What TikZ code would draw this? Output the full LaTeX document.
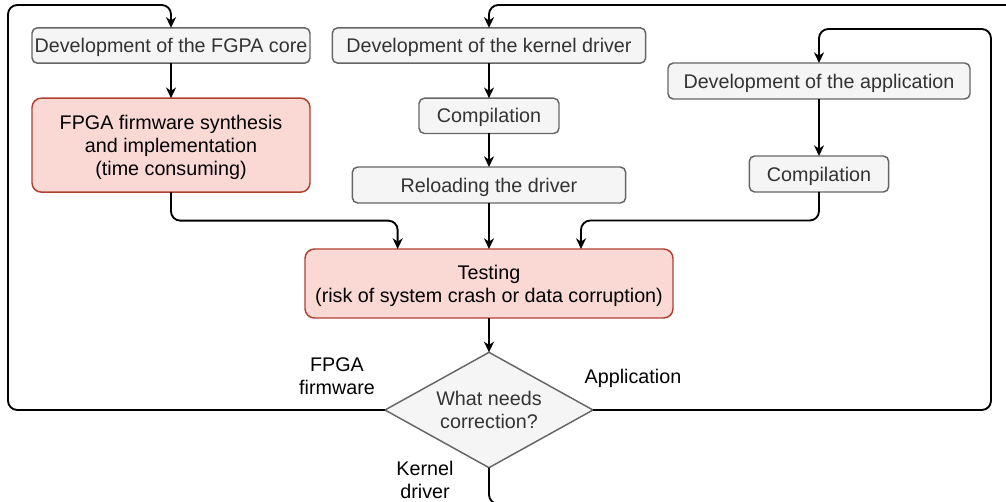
\documentclass[tikz,border=0pt]{standalone}
\usepackage{fontspec}
\setmainfont{Liberation Sans}
\usetikzlibrary{positioning,shapes.geometric,arrows.meta}
\definecolor{boxfill}{HTML}{F5F5F5}
\definecolor{boxline}{HTML}{666666}
\definecolor{boxtext}{HTML}{333333}
\definecolor{redfill}{HTML}{FAD9D5}
\definecolor{redline}{HTML}{AE4132}
\begin{document}
\begin{tikzpicture}[x=0.75pt, y=-0.75pt, >={Stealth[length=8pt,width=7.5pt,inset=2.5pt]},
    font=\fontsize{14.8}{17.25}\selectfont,
    gbox/.style = {draw=boxline, fill=boxfill, text=boxtext, line width=1.1pt, rounded corners=4pt,
                   minimum height=26.5pt, inner sep=0pt, outer sep=0pt, text depth=0pt, align=center},
    rbox/.style = {draw=redline, fill=redfill, text=black, line width=1.1pt, rounded corners=7pt,
                   inner sep=0pt, outer sep=0pt, text depth=0pt, align=center},
    cond/.style = {draw=boxline, fill=boxfill, text=boxtext, line width=1.1pt, diamond, aspect=1.8,
                   minimum width=156pt, minimum height=86.5pt, inner sep=0pt, outer sep=0pt, align=center},
    flow/.style = {->, line width=1.4pt, rounded corners=7pt}]
        \useasboundingbox (0,0) rectangle (1006,502);
        \clip (0,0) rectangle (1006,502);
        %
        \node[gbox, minimum width=208.5pt] (core) at (171,45.5) {Development of the FGPA core};
        \node[rbox, minimum width=208.5pt, minimum height=70.5pt] (synth) [below=26.25pt of core]
            {FPGA firmware synthesis\\and implementation\\(time consuming)};
        \node[gbox, minimum width=235pt] (kdev) at (489,45.5) {Development of the kernel driver};
        \node[gbox, minimum width=105pt] (kcomp) [below=26.25pt of kdev] {Compilation};
        \node[gbox, minimum width=205pt, minimum height=27pt] (reload) at (489,185) {Reloading the driver};
        \node[gbox, minimum width=226.5pt, minimum height=27pt] (appdev) at (819,81) {Development of the application};
        \node[gbox, minimum width=104.5pt, minimum height=27pt] (appcomp) [below=42.75pt of appdev] {Compilation};
        \node[rbox, minimum width=276pt, minimum height=51.75pt] (test) at (489,283.5)
            {Testing\\(risk of system crash or data corruption)};
        \node[cond] (dec) at (489,410) {What needs\\correction?};
        %
        \node[align=center] (lblfw) at (337,376) {FPGA\\firmware};
        \node (lblapp) at (633,378) {Application};
        \node[align=center] (lbldrv) at (425,479.5) {Kernel\\driver};
        %
        \draw[flow] (core) -- (synth);
        \draw[flow] (kdev) -- (kcomp);
        \draw[flow] (kcomp) -- (reload);
        \draw[flow] (reload) -- (test);
        \draw[flow] (appdev) -- (appcomp);
        \draw[flow] (synth.south) -- ++(0,28.5) -| ([xshift=-68.5pt]test.north);
        \draw[flow] (appcomp.south) -- ++(0,28.5) -| ([xshift=69pt]test.north);
        \draw[flow] (test) -- (dec);
        \draw[flow] (dec.west) -- (8,410) -- (8,5) -| (core.north);
        \draw[flow] (dec.east) -| (991,29) -| (appdev.north);
        \draw[flow] (dec.south) -- (489,504) -- (1020,504) -- (1020,5) -| (kdev.north);
\end{tikzpicture}
\end{document}
